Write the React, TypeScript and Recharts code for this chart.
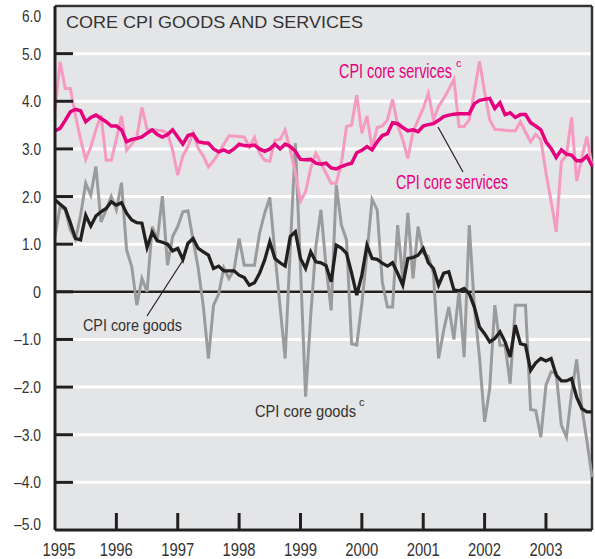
import React from 'react';
import { LineChart, Line, XAxis, YAxis, CartesianGrid, ReferenceLine } from 'recharts';

const years = ['1995', '1996', '1997', '1998', '1999', '2000', '2001', '2002', '2003'];
const yearTicks = [0, 12, 24, 36, 48, 60, 72, 84, 96];
const yTicks = [-5, -4, -3, -2, -1, 0, 1, 2, 3, 4, 5, 6];

// CPI core services, 12-month change (magenta)
const coreServices = [
  3.38, 3.43, 3.6, 3.78, 3.83, 3.8, 3.57, 3.66, 3.71, 3.64, 3.57, 3.48,
  3.48, 3.4, 3.15, 3.2, 3.22, 3.25, 3.33, 3.4, 3.3, 3.25, 3.3, 3.4,
  3.25, 3.1, 3.28, 3.31, 3.15, 3.13, 3.12, 3.0, 2.94, 2.98, 2.93, 3.0,
  3.1, 3.07, 3.06, 3.08, 3.0, 2.95, 3.0, 3.1, 3.0, 3.1, 3.05, 2.95,
  2.78, 2.77, 2.78, 2.7, 2.68, 2.7, 2.6, 2.58, 2.63, 2.67, 2.7, 2.92,
  2.97, 3.05, 2.98, 3.15, 3.28, 3.32, 3.55, 3.53, 3.45, 3.38, 3.4, 3.36,
  3.48, 3.51, 3.53, 3.6, 3.68, 3.71, 3.73, 3.74, 3.74, 3.74, 3.95, 4.02,
  4.04, 4.06, 3.85, 3.97, 3.72, 3.76, 3.66, 3.72, 3.72, 3.55, 3.48, 3.4,
  3.15, 3.01, 2.82, 2.98, 2.89, 2.87, 2.75, 2.75, 2.85, 2.64,
];

// CPI core services (c), annualized monthly change (light pink)
const coreServicesC = [
  3.81, 4.83, 4.27, 4.27, 3.7, 3.2, 2.78, 3.04, 3.4, 3.71, 2.76, 2.76,
  3.2, 3.69, 2.97, 3.1, 3.25, 3.87, 3.41, 3.4, 3.39, 3.38, 3.33, 2.97,
  2.45, 2.85, 3.05, 3.33, 3.01, 2.85, 2.62, 2.75, 2.91, 3.1, 3.27, 3.27,
  3.26, 3.25, 3.04, 3.24, 2.91, 2.76, 2.74, 3.18, 3.2, 3.4, 2.98, 2.5,
  1.9, 2.1, 2.6, 2.91, 2.7, 2.49, 2.28, 2.28, 2.7, 3.47, 3.5, 4.13,
  3.33, 3.69, 3.01, 3.45, 3.48, 3.61, 4.04, 3.5, 3.19, 2.8, 3.36, 3.61,
  3.85, 4.17, 3.61, 3.89, 4.06, 4.25, 4.46, 3.47, 3.47, 3.61, 4.2, 4.84,
  4.2, 3.61, 3.41, 3.4, 3.39, 3.38, 3.38, 3.57, 3.35, 3.15, 3.31, 3.19,
  2.5, 1.9, 1.26, 2.73, 2.87, 3.66, 2.33, 2.8, 3.26, 2.64,
];

// CPI core goods, 12-month change (black)
const coreGoods = [
  1.93, 1.84, 1.75, 1.45, 1.12, 1.09, 1.61, 1.38, 1.59, 1.68, 1.75, 1.89,
  1.82, 1.87, 1.65, 1.51, 1.45, 1.44, 0.93, 1.25, 1.07, 1.04, 1.0, 0.86,
  0.91, 0.68, 1.02, 1.12, 0.91, 0.84, 0.77, 0.49, 0.54, 0.44, 0.44, 0.44,
  0.35, 0.3, 0.14, 0.19, 0.39, 0.67, 1.05, 0.7, 0.61, 0.54, 1.16, 1.26,
  0.7, 0.49, 0.84, 0.63, 0.61, 0.55, 0.21, 0.98, 0.92, 0.81, 0.39, -0.07,
  0.35, 0.98, 0.7, 0.68, 0.6, 0.54, 0.61, 0.39, 0.14, 0.7, 0.72, 0.77,
  0.91, 0.61, 0.49, 0.14, 0.39, 0.42, 0.04, 0.02, 0.07, -0.04, -0.32, -0.74,
  -0.88, -1.05, -0.98, -0.84, -1.05, -1.37, -0.7, -1.09, -1.12, -1.65, -1.49, -1.4,
  -1.45, -1.4, -1.75, -1.87, -1.87, -1.82, -2.21, -2.45, -2.52, -2.52,
];

// CPI core goods (c), annualized monthly change (grey)
const coreGoodsC = [
  1.16, 1.79, 1.72, 1.3, 1.1, 1.6, 2.28, 2.03, 2.63, 1.47, 1.72, 2.0,
  1.72, 2.29, 0.88, 0.53, -0.28, 0.28, 0.0, 1.37, 1.09, 2.01, 0.56, 1.16,
  1.37, 1.68, 1.7, 1.09, 0.5, -0.3, -1.4, -0.28, -0.05, 0.5, 0.28, 0.46,
  1.12, 0.56, 0.56, 0.56, 1.23, 1.65, 1.98, 0.81, -0.3, -1.4, 0.9, 3.12,
  0.5, -2.2, -0.5, 0.95, 1.72, 0.53, -0.39, 2.24, 1.4, 1.09, -1.09, -1.12,
  -0.25, 0.8, 1.94, 1.72, 0.2, -0.32, -0.32, 1.4, 0.25, 1.66, 0.28, 1.37,
  0.81, 0.74, 0.39, -1.4, -0.81, -0.32, -1.0, 0.02, -1.37, 1.4, -0.32, -1.37,
  -2.73, -2.03, -0.28, -1.12, -1.12, -1.93, -0.28, -0.28, -0.28, -2.47, -2.49, -3.05,
  -1.96, -1.68, -1.7, -2.8, -3.05, -2.14, -1.42, -2.42, -3.12, -3.89,
];

const data = coreServices.map((v, i) => ({
  m: i,
  svc: v,
  svcC: coreServicesC[i],
  gds: coreGoods[i],
  gdsC: coreGoodsC[i],
}));

const NARROW = "'Liberation Sans Narrow', 'Arial Narrow', 'Liberation Sans', Arial, sans-serif";
const SANS = "'Liberation Sans', Arial, Helvetica, sans-serif";
const DARK = '#231f20';
const TEXT = '#333333';
const MAGENTA = '#e6007e';

const fmt = (v: number) => (v === 0 ? '0' : v < 0 ? '\u2013' + Math.abs(v).toFixed(1) : v.toFixed(1));

const YTick = (props: any) => {
  const { x, y, payload } = props;
  const v = payload.value as number;
  let dy = 6;
  if (v === 6) dy = 16;
  if (v === -5) dy = 0;
  const showTick = v !== 6 && v !== -5;
  const label = fmt(v);
  const len = v === 0 ? 8 : v < 0 ? 27 : 19;
  return (
    <g>
      {showTick && <line x1={x} x2={x + 18} y1={y} y2={y} stroke={DARK} strokeWidth={3} />}
      <text x={x - 14 - len} y={y + dy} fontFamily={NARROW} fontSize={17} fill={TEXT}
        textLength={len} lengthAdjust="spacingAndGlyphs">
        {label}
      </text>
    </g>
  );
};

const XTick = (props: any) => {
  const { x, y, payload } = props;
  const idx = yearTicks.indexOf(payload.value);
  const label = years[idx] ?? '';
  const first = idx === 0;
  const cx = x + (first ? 4 : 0);
  return (
    <g>
      {!first && <line x1={x} x2={x} y1={y - 17} y2={y} stroke={DARK} strokeWidth={3} />}
      <text x={cx - 16.5} y={y + 26} fontFamily={NARROW} fontSize={18.5} fill={TEXT}
        textLength={33} lengthAdjust="spacingAndGlyphs">
        {label}
      </text>
    </g>
  );
};

export default function App() {
  return (
    <div style={{ position: 'absolute', left: 0, top: 0, width: 595, height: 559, background: '#fff' }}>
      <LineChart width={595} height={559} data={data} margin={{ top: 6, right: 3, bottom: 0, left: 0 }}>
        <CartesianGrid vertical={false} stroke="#ffffff" strokeWidth={3} fill="#e4e5e7" fillOpacity={1} />
        <XAxis
          dataKey="m"
          type="number"
          domain={[0, 105]}
          ticks={yearTicks}
          height={29}
          tickSize={0}
          tickMargin={0}
          tickLine={false}
          axisLine={{ stroke: DARK, strokeWidth: 3 }}
          tick={<XTick />}
          interval={0}
        />
        <YAxis
          type="number"
          domain={[-5, 6]}
          ticks={yTicks}
          width={55}
          tickSize={0}
          tickMargin={0}
          tickLine={false}
          axisLine={{ stroke: DARK, strokeWidth: 3 }}
          tick={<YTick />}
          interval={0}
        />
        <ReferenceLine y={6} stroke={TEXT} strokeWidth={2.5} />
        <ReferenceLine x={105} stroke={TEXT} strokeWidth={2.5} />
        <ReferenceLine y={0} stroke={DARK} strokeWidth={2.5} />
        <Line dataKey="gdsC" stroke="#9a9b9d" strokeWidth={3} dot={false} isAnimationActive={false} strokeLinejoin="miter" />
        <Line dataKey="svcC" stroke="#f59ac1" strokeWidth={3} dot={false} isAnimationActive={false} strokeLinejoin="miter" />
        <Line dataKey="gds" stroke={DARK} strokeWidth={3.3} dot={false} isAnimationActive={false} strokeLinejoin="miter" />
        <Line dataKey="svc" stroke={MAGENTA} strokeWidth={3.5} dot={false} isAnimationActive={false} strokeLinejoin="miter" />
      </LineChart>
      <svg width={595} height={559} style={{ position: 'absolute', left: 0, top: 0, pointerEvents: 'none' }}>
        <text x={66} y={28} fontFamily={SANS} fontSize={17} fill={TEXT} textLength={297} lengthAdjust="spacingAndGlyphs">
          CORE CPI GOODS AND SERVICES
        </text>
        <text x={339} y={78} fontFamily={NARROW} fontSize={20} fill={MAGENTA} textLength={113} lengthAdjust="spacingAndGlyphs">
          CPI core services
        </text>
        <text x={456} y={67} fontFamily={NARROW} fontSize={11} fill={MAGENTA}>c</text>
        <text x={396} y={189} fontFamily={NARROW} fontSize={20} fill={MAGENTA} textLength={112} lengthAdjust="spacingAndGlyphs">
          CPI core services
        </text>
        <line x1={438} y1={127} x2={463} y2={172} stroke={DARK} strokeWidth={1.2} />
        <text x={83} y={331} fontFamily={NARROW} fontSize={17} fill={TEXT} textLength={99} lengthAdjust="spacingAndGlyphs">
          CPI core goods
        </text>
        <line x1={147} y1={316} x2={185} y2={257} stroke={DARK} strokeWidth={1.2} />
        <text x={255} y={417} fontFamily={NARROW} fontSize={17} fill={TEXT} textLength={101} lengthAdjust="spacingAndGlyphs">
          CPI core goods
        </text>
        <text x={359} y={406} fontFamily={NARROW} fontSize={11} fill={TEXT}>c</text>
      </svg>
    </div>
  );
}
